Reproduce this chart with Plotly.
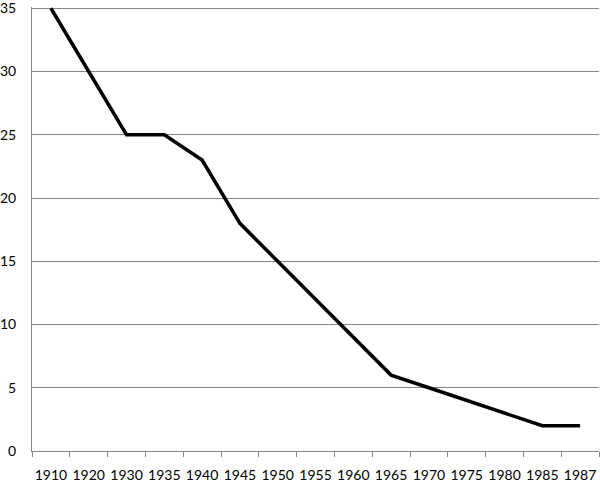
import plotly.graph_objects as go

years = ["1910", "1920", "1930", "1935", "1940", "1945", "1950", "1955",
         "1960", "1965", "1970", "1975", "1980", "1985", "1987"]
values = [35, 30, 25, 25, 23, 18, 15, 12, 9, 6, 5, 4, 3, 2, 2]
y_ticks = [0, 5, 10, 15, 20, 25, 30, 35]

fig = go.Figure()
fig.add_trace(go.Scatter(
    x=years, y=values, mode="lines",
    line=dict(color="black", width=3.5),
    cliponaxis=False, hoverinfo="skip",
))

fig.update_layout(
    width=600, height=483,
    margin=dict(l=32, r=1, t=7, b=32, autoexpand=False),
    paper_bgcolor="white", plot_bgcolor="white",
    showlegend=False,
    font=dict(family="Lato, Open Sans, sans-serif", size=14, color="black"),
    xaxis=dict(
        type="category", range=[-0.5, len(years) - 0.5],
        showgrid=False, showline=True, linecolor="#868686",
        linewidth=1, ticks="outside", tickson="boundaries", ticklen=5,
        tickcolor="#868686", zeroline=False, tickangle=0,
        ticklabelstandoff=11, ticklabeloverflow="allow", automargin=False,
    ),
    yaxis=dict(
        range=[0, 35.1], tickvals=y_ticks, showgrid=True, gridcolor="#868686",
        gridwidth=1, showline=True, linecolor="#868686", linewidth=1,
        ticks="", zeroline=False, ticklabelstandoff=12,
        ticklabeloverflow="allow", automargin=False,
    ),
)

fig.write_html(
    "out.html",
    config={"displayModeBar": False},
    post_script="document.body.style.margin='0';document.body.style.overflow='hidden';",
)
